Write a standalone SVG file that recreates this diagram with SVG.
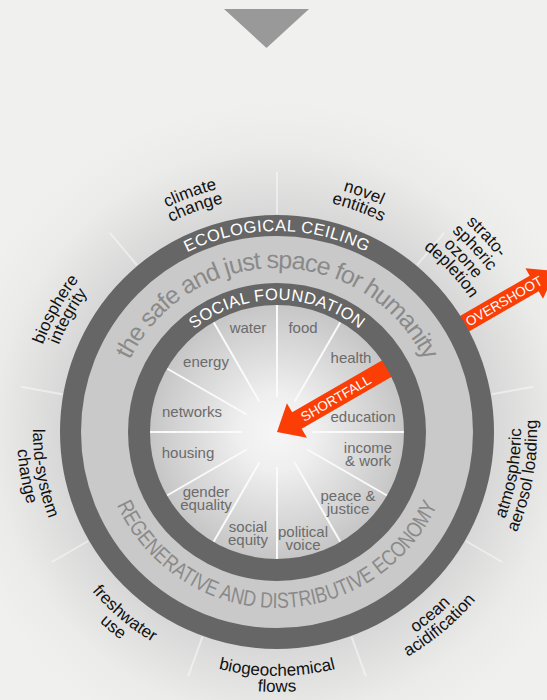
<svg xmlns="http://www.w3.org/2000/svg" width="547" height="700" viewBox="0 0 547 700">
<style>
text{font-family:'Liberation Sans',Arial,sans-serif}
.o{font-size:17px;fill:#111;text-anchor:middle}
.i{font-size:15px;fill:#6b6b6b;text-anchor:middle}
.r{font-size:16.5px;fill:#fff;text-anchor:middle;letter-spacing:0.5px}
.b{fill:#8a8a8a;text-anchor:middle}
.a{font-size:13.5px;fill:#fff;text-anchor:middle}
.sp{stroke:#fafafa;stroke-width:2}
.spo{stroke:#fafafa;stroke-width:2;opacity:0.55}
.arrow{fill:#fb3d06}
</style>
<defs>
<radialGradient id="halo" cx="277" cy="432" r="330" gradientUnits="userSpaceOnUse">
<stop offset="0.64" stop-color="#d6d6d6"/>
<stop offset="0.86" stop-color="#ebebea"/>
<stop offset="1" stop-color="#f0f0ee"/>
</radialGradient>
<radialGradient id="disk" cx="277" cy="432" r="127" gradientUnits="userSpaceOnUse">
<stop offset="0" stop-color="#f6f6f6"/>
<stop offset="0.3" stop-color="#efefef"/>
<stop offset="1" stop-color="#c6c6c6"/>
</radialGradient>
<line id="ispk" x1="277" y1="397" x2="277" y2="305" class="sp"/>
<line id="ospk" x1="277" y1="214" x2="277" y2="172" class="spo"/>
<path id="eco" d="M76 432 A201 201 0 0 1 478 432"/>
<path id="soc" d="M145 432 A132 132 0 0 1 409 432"/>
<path id="safe" d="M113 432 A164 164 0 0 1 441 432"/>
<path id="regen" d="M101 432 A176 176 0 0 0 453 432"/>
<path id="t235" d="M97 280.9 A235 235 0 0 1 457 280.9"/>
<path id="t250" d="M85.5 271.3 A250 250 0 0 1 468.5 271.3"/>
<path id="t266" d="M73.2 261 A266 266 0 0 1 480.8 261"/>
<path id="t282" d="M61 250.7 A282 282 0 0 1 493 250.7"/>
<path id="b244" d="M90.1 588.8 A244 244 0 0 0 463.9 588.8"/>
<path id="b260" d="M77.8 599.1 A260 260 0 0 0 476.2 599.1"/>
</defs>
<rect width="547" height="700" fill="#f0f0ee"/>
<circle cx="277" cy="432" r="330" fill="url(#halo)"/>
<polygon points="224,9 309,9 266.5,48" fill="#999"/>

<g id="spokes">
<use href="#ospk"/>
<use href="#ospk" transform="rotate(40 277 432)"/>
<use href="#ospk" transform="rotate(80 277 432)"/>
<use href="#ospk" transform="rotate(120 277 432)"/>
<use href="#ospk" transform="rotate(160 277 432)"/>
<use href="#ospk" transform="rotate(200 277 432)"/>
<use href="#ospk" transform="rotate(240 277 432)"/>
<use href="#ospk" transform="rotate(280 277 432)"/>
<use href="#ospk" transform="rotate(320 277 432)"/>
</g>

<circle cx="277" cy="432" r="206.5" fill="#c9c9c9"/>
<circle cx="277" cy="432" r="127" fill="url(#disk)"/>

<g id="inner-spokes">
<use href="#ispk"/>
<use href="#ispk" transform="rotate(30 277 432)"/>
<use href="#ispk" transform="rotate(60 277 432)"/>
<use href="#ispk" transform="rotate(90 277 432)"/>
<use href="#ispk" transform="rotate(120 277 432)"/>
<use href="#ispk" transform="rotate(150 277 432)"/>
<use href="#ispk" transform="rotate(180 277 432)"/>
<use href="#ispk" transform="rotate(210 277 432)"/>
<use href="#ispk" transform="rotate(240 277 432)"/>
<use href="#ispk" transform="rotate(270 277 432)"/>
<use href="#ispk" transform="rotate(300 277 432)"/>
<use href="#ispk" transform="rotate(330 277 432)"/>
</g>

<g id="arrows">
<g id="shortfall" transform="translate(277 432) rotate(-30)">
<polygon class="arrow" points="0,0 23,-20 23,-9.5 135,-9.5 135,9.5 23,9.5 23,20"/>
<text class="a" x="68" y="4.9">SHORTFALL</text>
</g>
<g id="overshoot" transform="translate(277 432) rotate(-30)">
<polygon class="arrow" points="205,-9 297,-9 297,-17.5 322,0 297,17.5 297,9 205,9"/>
<text class="a" x="262" y="4.9">OVERSHOOT</text>
</g>
</g>

<circle cx="277" cy="432" r="206.5" fill="none" stroke="#666" stroke-width="21"/>
<circle cx="277" cy="432" r="138" fill="none" stroke="#666" stroke-width="22"/>

<g id="ecological-ceiling"><text class="r"><textPath href="#eco" startOffset="50%">ECOLOGICAL CEILING</textPath></text></g>
<g id="social-foundation"><text class="r" style="letter-spacing:0.4px"><textPath href="#soc" startOffset="50%">SOCIAL FOUNDATION</textPath></text></g>
<g id="safe-space"><text class="b" style="font-size:25px;letter-spacing:-1px"><textPath href="#safe" startOffset="50%">the safe and just space for humanity</textPath></text></g>
<g id="regenerative"><text class="b" style="font-size:22px"><textPath href="#regen" startOffset="50%" textLength="402" lengthAdjust="spacingAndGlyphs">REGENERATIVE AND DISTRIBUTIVE ECONOMY</textPath></text></g>

<g id="inner-labels">
<g id="water"><text class="i" x="248" y="333">water</text></g>
<g id="food"><text class="i" x="303" y="333">food</text></g>
<g id="health"><text class="i" x="351" y="363">health</text></g>
<g id="education"><text class="i" x="363" y="422">education</text></g>
<g id="income"><text class="i" x="368" y="453">income</text><text class="i" x="368" y="466">&amp; work</text></g>
<g id="peace"><text class="i" x="348" y="501">peace &amp;</text><text class="i" x="348" y="514">justice</text></g>
<g id="political"><text class="i" x="303" y="537">political</text><text class="i" x="303" y="550">voice</text></g>
<g id="social-equity"><text class="i" x="248" y="532">social</text><text class="i" x="248" y="545">equity</text></g>
<g id="gender"><text class="i" x="206" y="497">gender</text><text class="i" x="206" y="510">equality</text></g>
<g id="housing"><text class="i" x="188" y="458">housing</text></g>
<g id="networks"><text class="i" x="192" y="417">networks</text></g>
<g id="energy"><text class="i" x="206" y="367">energy</text></g>
</g>

<g id="outer-labels">
<g id="climate-change" transform="rotate(-20 277 432)"><text class="o"><textPath href="#t250" startOffset="50%">climate</textPath></text><text class="o"><textPath href="#t235" startOffset="50%">change</textPath></text></g>
<g id="novel-entities" transform="rotate(20 277 432)"><text class="o"><textPath href="#t250" startOffset="50%">novel</textPath></text><text class="o"><textPath href="#t235" startOffset="50%">entities</textPath></text></g>
<g id="ozone" transform="rotate(47 277 432)"><text class="o"><textPath href="#t282" startOffset="50%">strato-</textPath></text><text class="o"><textPath href="#t266" startOffset="50%">spheric</textPath></text><text class="o"><textPath href="#t250" startOffset="50%">ozone</textPath></text><text class="o"><textPath href="#t235" startOffset="50%">depletion</textPath></text></g>
<g id="aerosol" transform="rotate(-80 277 432)"><text class="o"><textPath href="#b244" startOffset="50%">atmospheric</textPath></text><text class="o"><textPath href="#b260" startOffset="50%">aerosol loading</textPath></text></g>
<g id="ocean" transform="rotate(-40 277 432)"><text class="o"><textPath href="#b244" startOffset="50%">ocean</textPath></text><text class="o"><textPath href="#b260" startOffset="50%">acidification</textPath></text></g>
<g id="biogeochemical" ><text class="o"><textPath href="#b244" startOffset="50%">biogeochemical</textPath></text><text class="o"><textPath href="#b260" startOffset="50%">flows</textPath></text></g>
<g id="freshwater" transform="rotate(40 277 432)"><text class="o"><textPath href="#b244" startOffset="50%">freshwater</textPath></text><text class="o"><textPath href="#b260" startOffset="50%">use</textPath></text></g>
<g id="land-system" transform="rotate(80 277 432)"><text class="o"><textPath href="#b244" startOffset="50%">land-system</textPath></text><text class="o"><textPath href="#b260" startOffset="50%">change</textPath></text></g>
<g id="biosphere" transform="rotate(-61 277 432)"><text class="o"><textPath href="#t250" startOffset="50%">biosphere</textPath></text><text class="o"><textPath href="#t235" startOffset="50%">integrity</textPath></text></g>
</g>
</svg>
